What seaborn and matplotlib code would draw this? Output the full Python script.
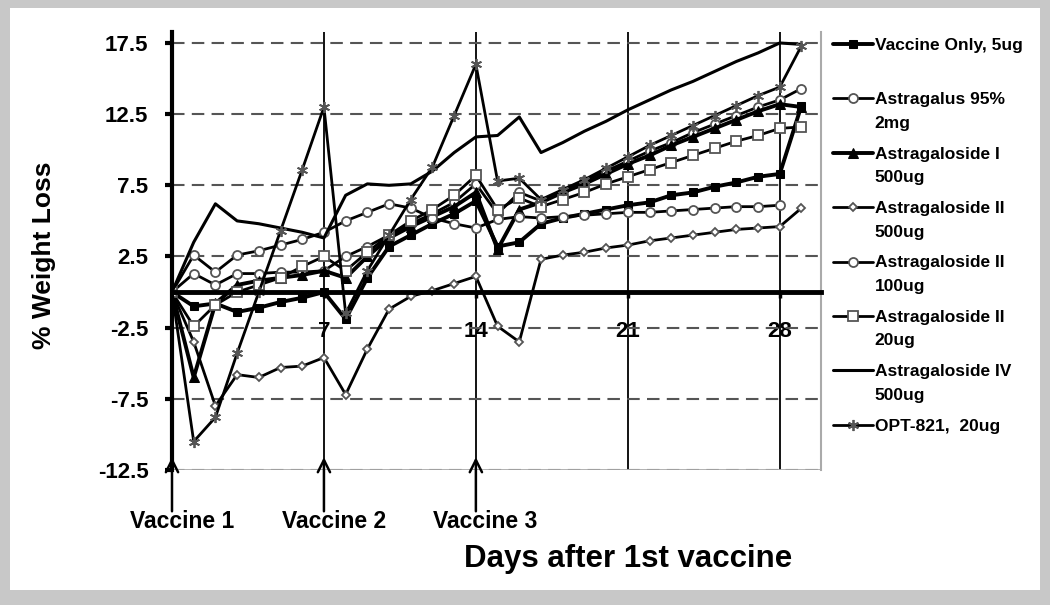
import numpy as np
import matplotlib
matplotlib.use("Agg")
import matplotlib.pyplot as plt
from matplotlib.patches import Rectangle
import seaborn as sns

# days after the first vaccine (one reading per day)
days = list(range(30))

vaccine_only = [0, -1.0, -0.8, -1.4, -1.1, -0.7, -0.4, 0.0, -1.9, 1.0, 3.2, 4.0, 4.8, 5.5, 6.4,
                3.2, 3.5, 4.8, 5.2, 5.5, 5.8, 6.1, 6.3, 6.8, 7.0, 7.4, 7.7, 8.1, 8.3, 13.1]
astragalus_95 = [0, 1.3, 0.5, 1.3, 1.3, 1.4, 1.4, 1.5, 2.5, 3.2, 4.0, 4.8, 5.5, 6.3, 7.6,
                 5.5, 7.0, 6.4, 7.1, 7.8, 8.5, 9.2, 9.9, 10.5, 11.2, 11.8, 12.4, 13.0, 13.5, 14.3]
astragaloside_i = [0, -6.0, -0.8, 0.5, 0.8, 1.0, 1.2, 1.5, 1.0, 2.5, 3.8, 4.6, 5.3, 6.0, 7.0,
                   3.0, 5.8, 6.3, 7.0, 7.6, 8.3, 9.0, 9.6, 10.3, 10.9, 11.5, 12.1, 12.7, 13.2, 13.0]
astragaloside_ii_500 = [0, -3.5, -8.0, -5.8, -6.0, -5.3, -5.2, -4.6, -7.2, -4.0, -1.2, -0.3, 0.1, 0.6, 1.1,
                        -2.4, -3.5, 2.3, 2.6, 2.8, 3.1, 3.3, 3.6, 3.8, 4.0, 4.2, 4.4, 4.5, 4.6, 5.9]
astragaloside_ii_100 = [0, 2.6, 1.4, 2.6, 2.9, 3.3, 3.7, 4.2, 5.0, 5.6, 6.2, 5.9, 5.2, 4.8, 4.5,
                        5.1, 5.3, 5.2, 5.3, 5.4, 5.5, 5.6, 5.6, 5.7, 5.8, 5.9, 6.0, 6.0, 6.1, np.nan]
astragaloside_ii_20 = [0, -2.4, -0.9, 0.0, 0.5, 1.0, 1.8, 2.5, 1.5, 2.8, 4.0, 5.0, 5.8, 6.8, 8.2,
                       5.8, 6.6, 6.0, 6.5, 7.0, 7.6, 8.1, 8.6, 9.1, 9.6, 10.1, 10.6, 11.0, 11.5, 11.6]
astragaloside_iv = [0, 3.5, 6.2, 5.0, 4.8, 4.5, 4.2, 3.8, 6.8, 7.6, 7.5, 7.6, 8.5, 9.8, 10.9,
                    11.0, 12.3, 9.8, 10.5, 11.3, 12.0, 12.8, 13.5, 14.2, 14.8, 15.5, 16.2, 16.8, 17.5, 17.4]
opt_821 = [0, -10.5, -8.8, -4.3, 0.0, 4.3, 8.6, 13.0, -1.5, 1.5, 4.0, 6.5, 8.8, 12.4, 16.0,
           7.8, 8.0, 6.5, 7.2, 7.9, 8.7, 9.5, 10.3, 11.0, 11.7, 12.4, 13.1, 13.8, 14.4, 17.3]

series_labels = ["Vaccine Only, 5ug\n", "Astragalus 95%\n2mg", "Astragaloside I\n500ug",
                 "Astragaloside II\n500ug", "Astragaloside II\n100ug", "Astragaloside II\n20ug",
                 "Astragaloside IV\n500ug", "OPT-821,  20ug"]
yticks = [-12.5, -7.5, -2.5, 2.5, 7.5, 12.5, 17.5]
ytick_labels = ["-12.5", "-7.5", "-2.5", "2.5", "7.5", "12.5", "17.5"]
xticks = [7, 14, 21, 28]
xtick_labels = ["7", "14", "21", "28"]
vaccine_days = [0, 7, 14]
vaccine_names = ["Vaccine 1", "Vaccine 2", "Vaccine 3"]

sns.set_style("white")
plt.rcParams["font.family"] = ["Liberation Sans", "DejaVu Sans"]
plt.rcParams["font.weight"] = "bold"
for key in ["text.color", "axes.labelcolor", "xtick.color", "ytick.color"]:
    plt.rcParams[key] = "black"

fig = plt.figure(figsize=(10.5, 6.05), dpi=100, facecolor="#c8c8c8")
fig.patches.append(Rectangle((10 / 1050, 15 / 605), 1030 / 1050, 582 / 605,
                             transform=fig.transFigure, facecolor="white",
                             edgecolor="none", zorder=-5))
ax = fig.add_axes([172 / 1050, 1 - 470 / 605, 649 / 1050, 438 / 605])
ax.set_facecolor("white")

gray = "#555555"
styles = [
    dict(marker="s", ms=6, mfc="black", mec="black", lw=2.8),
    dict(marker="o", ms=6.5, mfc="white", mec=gray, mew=1.3, lw=2.0),
    dict(marker="^", ms=6.5, mfc="black", mec="black", lw=2.8),
    dict(marker="D", ms=4.5, mfc="white", mec=gray, mew=1.3, lw=2.0),
    dict(marker="o", ms=6.5, mfc="white", mec=gray, mew=1.3, lw=2.0),
    dict(marker="s", ms=6.5, mfc="white", mec=gray, mew=1.3, lw=2.0),
    dict(marker=None, lw=2.2),
    dict(marker=(6, 2, 0), ms=8, mec=gray, mew=1.3, lw=2.0),
]
all_series = [vaccine_only, astragalus_95, astragaloside_i, astragaloside_ii_500,
              astragaloside_ii_100, astragaloside_ii_20, astragaloside_iv, opt_821]

for values, label, st in zip(all_series, series_labels, styles):
    sns.lineplot(x=days, y=values, ax=ax, color="black", label=label,
                 errorbar=None, sort=False, **st)

ax.set_xlim(0, 29.9)
ax.set_ylim(-12.5, 18.27)

ax.set_yticks(yticks, labels=ytick_labels)
ax.set_xticks(xticks, labels=xtick_labels)
ax.yaxis.grid(True, color="#555555", lw=1.5, ls=(0, (6, 3.5)))
ax.xaxis.grid(True, color="black", lw=1.3)
ax.set_axisbelow(True)

ax.spines["top"].set_visible(False)
ax.spines["right"].set_color("#aaaaaa")
ax.spines["right"].set_linewidth(1.5)
ax.spines["left"].set_color("black")
ax.spines["left"].set_linewidth(3)
ax.spines["bottom"].set_position(("data", 0))
ax.spines["bottom"].set_color("black")
ax.spines["bottom"].set_linewidth(3.5)
ax.axhline(-12.5, color="#aaaaaa", lw=2, zorder=1.5)

ax.tick_params(axis="y", direction="out", length=5, width=3, pad=12,
               labelsize=16, left=True)
ax.tick_params(axis="x", direction="out", length=4, width=2.5, pad=17,
               labelsize=16, bottom=True)

ax.set_ylabel("% Weight Loss", fontsize=19, fontweight="bold")
ax.yaxis.set_label_coords(-0.178, 0.49)
ax.set_xlabel("Days after 1st vaccine", fontsize=22.5, fontweight="bold")
ax.xaxis.set_label_coords(0.703, -0.168)

for d, name in zip(vaccine_days, vaccine_names):
    ax.annotate("", xy=(d, -11.6), xytext=(d, -15.4), xycoords="data",
                annotation_clip=False,
                arrowprops=dict(arrowstyle="->", lw=1.8, color="black",
                                mutation_scale=22, shrinkA=0, shrinkB=0))
    ax.text(d + 0.45, -16.1, name, ha="center", va="center", fontsize=16.5,
            fontweight="bold", clip_on=False)

handles, labels = ax.get_legend_handles_labels()
ax.get_legend().remove()
leg = fig.legend(handles, labels, loc="upper left",
                 bbox_to_anchor=(833 / 1050, 1 - 38 / 605), frameon=False,
                 prop=dict(size=12.5, weight="bold"), handlelength=2.3,
                 handletextpad=0.1, labelspacing=0.92, borderpad=0,
                 borderaxespad=0)
for t in leg.get_texts():
    t.set_linespacing(1.7)
for col in leg._legend_handle_box.get_children():
    for row in col.get_children():
        row.align = "top"

fig.savefig("out.png", dpi=100, facecolor=fig.get_facecolor())
